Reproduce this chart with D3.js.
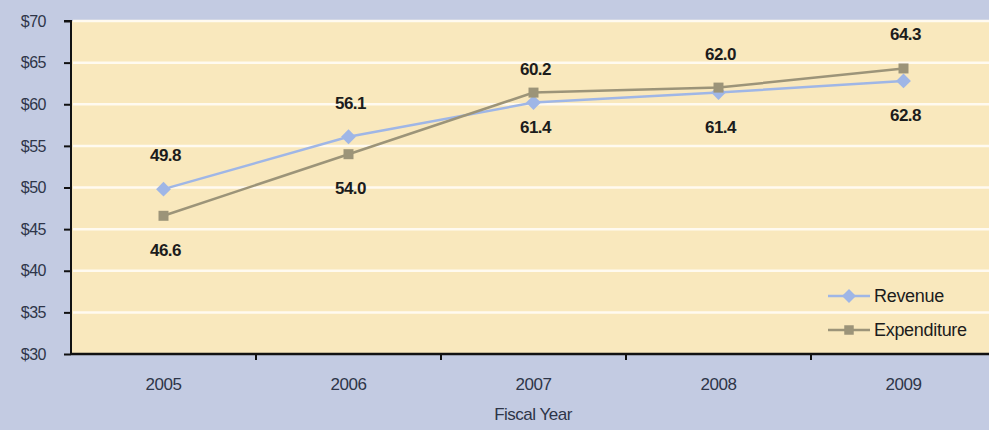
<!DOCTYPE html>
<html>
<head>
<meta charset="utf-8">
<script src="https://cdn.jsdelivr.net/npm/d3@7"></script>
<style>
  body { margin: 0; background: #c3cbe2; }
  svg { display: block; font-family: "Liberation Sans", Arial, sans-serif; }
</style>
</head>
<body>
<svg id="chart" width="989" height="430"></svg>
<script>
// chart data
let years = ["2005", "2006", "2007", "2008", "2009"];
let revenue = [49.8, 56.1, 60.2, 61.4, 62.8];
let expenditure = [46.6, 54.0, 61.4, 62.0, 64.3];
// which side of the point each value label sits on
let revenueLabelSide = ["above", "above", "above", "below", "below"];
let expenditureLabelSide = ["below", "below", "below", "above", "above"];
let yTicks = [30, 35, 40, 45, 50, 55, 60, 65, 70];

let width = 989;
let height = 430;
let plotLeft = 71, plotRight = 996, plotTop = 21, plotBottom = 354;

let svg = d3.select("#chart");

svg.append("rect")
  .attr("width", width)
  .attr("height", height)
  .attr("fill", "#c3cbe2");

let xScale = d3.scaleBand()
  .domain(years)
  .range([plotLeft, plotRight]);
let yScale = d3.scaleLinear()
  .domain([30, 70])
  .range([plotBottom, plotTop]);

// plot area
svg.append("rect")
  .attr("x", plotLeft)
  .attr("y", plotTop)
  .attr("width", plotRight - plotLeft)
  .attr("height", plotBottom - plotTop)
  .attr("fill", "#f9e8bd");

// gridlines
svg.append("g")
  .selectAll("line")
  .data(yTicks.slice(1))
  .enter().append("line")
  .attr("x1", plotLeft + 2)
  .attr("x2", plotRight)
  .attr("y1", (d) => yScale(d))
  .attr("y2", (d) => yScale(d))
  .attr("stroke", "#fffaf0")
  .attr("stroke-width", 2.5);

// y axis
let yAxis = d3.axisLeft(yScale)
  .tickValues(yTicks)
  .tickSize(7)
  .tickFormat((d) => "$" + d);
let gY = svg.append("g")
  .attr("transform", `translate(${plotLeft}, 0)`)
  .call(yAxis);
gY.select(".domain").attr("stroke", "#111").attr("stroke-width", 2)
  .attr("d", `M-7,${plotTop}H0V${plotBottom}`);
gY.selectAll(".tick line").attr("stroke", "#111").attr("stroke-width", 2);
gY.selectAll(".tick text")
  .attr("font-size", 16)
  .attr("letter-spacing", -0.5)
  .attr("fill", "#2e3548")
  .attr("x", -25)
  .attr("text-anchor", "end");

// x axis
let gX = svg.append("g")
  .attr("transform", `translate(0, ${plotBottom})`);
gX.append("line")
  .attr("x1", plotLeft)
  .attr("x2", plotRight)
  .attr("stroke", "#111")
  .attr("stroke-width", 2.5);
gX.selectAll("line.x-tick")
  .data(years.slice(1))
  .enter().append("line")
  .classed("x-tick", true)
  .attr("x1", (d) => xScale(d))
  .attr("x2", (d) => xScale(d))
  .attr("y1", 0)
  .attr("y2", 6)
  .attr("stroke", "#111")
  .attr("stroke-width", 2);
gX.selectAll("text.x-label")
  .data(years)
  .enter().append("text")
  .classed("x-label", true)
  .attr("x", (d) => xScale(d) + xScale.bandwidth() / 2)
  .attr("y", 36)
  .attr("text-anchor", "middle")
  .attr("font-size", 17)
  .attr("letter-spacing", -0.5)
  .attr("fill", "#2e3548")
  .text((d) => d);

svg.append("text")
  .attr("x", 533)
  .attr("y", 420)
  .attr("text-anchor", "middle")
  .attr("font-size", 17)
  .attr("letter-spacing", -0.5)
  .attr("fill", "#2e3548")
  .text("Fiscal Year");

let cx = (i) => xScale(years[i]) + xScale.bandwidth() / 2;

let series = [
  { name: "Revenue", values: revenue, sides: revenueLabelSide, color: "#9fb6e6", marker: d3.symbolSquare, rotate: 45, size: 110 },
  { name: "Expenditure", values: expenditure, sides: expenditureLabelSide, color: "#9c9479", marker: d3.symbolSquare, rotate: 0, size: 100 }
];

let line = d3.line()
  .x((d, i) => cx(i))
  .y((d) => yScale(d));

series.forEach((s) => {
  svg.append("path")
    .attr("d", line(s.values))
    .attr("fill", "none")
    .attr("stroke", s.color)
    .attr("stroke-width", 2.5);
});

series.forEach((s) => {
  svg.append("g")
    .selectAll("path")
    .data(s.values)
    .enter().append("path")
    .attr("d", d3.symbol().type(s.marker).size(s.size))
    .attr("transform", (d, i) => `translate(${cx(i)}, ${yScale(d)}) rotate(${s.rotate})`)
    .attr("fill", s.color);
});

series.forEach((s) => {
  svg.append("g")
    .selectAll("text")
    .data(s.values)
    .enter().append("text")
    .attr("x", (d, i) => cx(i) + 2)
    .attr("y", (d, i) => yScale(d) + (s.sides[i] == "above" ? -34 : 34))
    .attr("dy", "0.35em")
    .attr("text-anchor", "middle")
    .attr("font-size", 17)
    .attr("font-weight", "bold")
    .attr("letter-spacing", -0.5)
    .attr("fill", "#1c1c1c")
    .text((d) => d.toFixed(1));
});

// legend
let legend = svg.append("g")
  .attr("transform", "translate(828, 296)");
series.forEach((s, i) => {
  let g = legend.append("g").attr("transform", `translate(0, ${i * 34})`);
  g.append("line")
    .attr("x1", 0).attr("x2", 42)
    .attr("stroke", s.color)
    .attr("stroke-width", 2.5);
  g.append("path")
    .attr("d", d3.symbol().type(s.marker).size(s.size * 0.9))
    .attr("transform", `translate(21, 0) rotate(${s.rotate})`)
    .attr("fill", s.color);
  g.append("text")
    .attr("x", 46)
    .attr("dy", "0.35em")
    .attr("font-size", 18)
    .attr("letter-spacing", -0.3)
    .attr("fill", "#1c1c1c")
    .text(s.name);
});
</script>
</body>
</html>
